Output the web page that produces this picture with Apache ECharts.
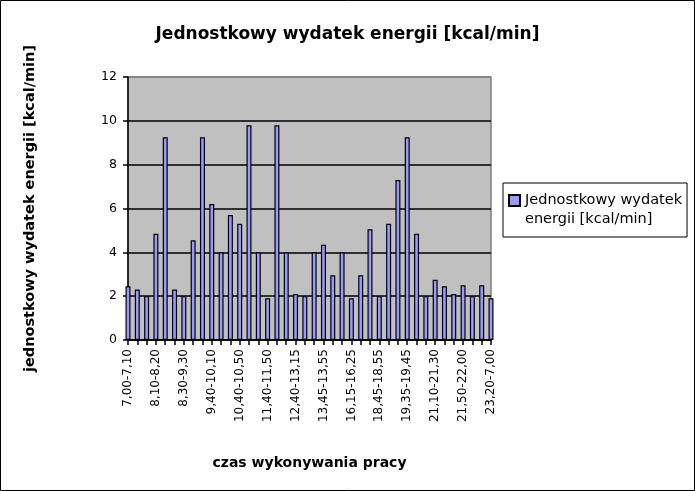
<!DOCTYPE html>
<html>
<head>
<meta charset="utf-8">
<script src="https://cdn.jsdelivr.net/npm/echarts@6/dist/echarts.min.js"></script>
<style>
html,body{margin:0;padding:0;background:#fff;}
#chart{width:695px;height:491px;}
</style>
</head>
<body>
<div id="chart"></div>
<script>
var titleText = 'Jednostkowy wydatek energii [kcal/min]';
var seriesName = 'Jednostkowy wydatek energii [kcal/min]';
var legendLines = ['Jednostkowy wydatek', 'energii [kcal/min]'];
var xAxisName = 'czas wykonywania pracy';
var yAxisName = 'jednostkowy wydatek energii [kcal/min]';

var categories = [
  '7,00-7,10', '7,10-7,40', '7,40-8,10',
  '8,10-8,20', '8,20-8,25', '8,25-8,30',
  '8,30-9,30', '9,30-9,35', '9,35-9,40',
  '9,40-10,10', '10,10-10,20', '10,20-10,40',
  '10,40-10,50', '10,50-11,20', '11,20-11,40',
  '11,40-11,50', '11,50-12,20', '12,20-12,40',
  '12,40-13,15', '13,15-13,35', '13,35-13,45',
  '13,45-13,55', '13,55-14,30', '14,30-15,45',
  '16,15-16,25', '16,25-17,30', '17,30-18,35',
  '18,45-18,55', '18,55-19,05', '19,05-19,35',
  '19,35-19,45', '19,45-20,00', '20,00-21,00',
  '21,10-21,30', '21,30-21,40', '21,40-21,50',
  '21,50-22,00', '22,00-22,30', '22,30-23,20',
  '23,20-7,00'
];

var values = [
  2.45, 2.3, 2.0, 4.85, 9.25, 2.3, 2.0, 4.55, 9.25, 6.2,
  4.0, 5.7, 5.3, 9.8, 4.0, 1.9, 9.8, 4.0, 2.1, 2.0,
  4.0, 4.35, 2.95, 4.0, 1.9, 2.95, 5.05, 2.0, 5.3, 7.3,
  9.25, 4.85, 2.0, 2.75, 2.45, 2.1, 2.5, 2.0, 2.5, 1.9
];

var yMin = 0, yMax = 12, yStep = 2;

var chart = echarts.init(document.getElementById('chart'), null, {renderer: 'canvas'});
chart.setOption({
  animation: false,
  backgroundColor: '#ffffff',
  title: {
    text: titleText,
    left: 'center',
    top: 21,
    textStyle: {fontFamily: 'DejaVu Sans', fontWeight: 'bold', fontSize: 17, color: '#000'}
  },
  legend: {
    left: 503,
    top: 183,
    orient: 'vertical',
    padding: [7, 5, 7, 5],
    borderColor: '#000',
    borderWidth: 1,
    itemWidth: 11,
    itemHeight: 38,
    icon: 'path://M0,4h11v11h-11z M0,0 M11,38',
    formatter: function () { return legendLines.join('\n'); },
    textStyle: {fontFamily: 'DejaVu Sans', fontSize: 14.5, lineHeight: 19, color: '#000'},
    data: [seriesName]
  },
  grid: {
    left: 128, right: 204, top: 77, bottom: 151,
    show: true,
    backgroundColor: '#c0c0c0',
    borderColor: '#808080',
    borderWidth: 1.5,
    outerBoundsMode: 'none'
  },
  xAxis: {
    type: 'category',
    data: categories,
    boundaryGap: false,
    name: xAxisName,
    nameLocation: 'middle',
    nameGap: 116,
    nameTextStyle: {fontFamily: 'DejaVu Sans', fontWeight: 'bold', fontSize: 14, color: '#000'},
    axisLine: {show: true, lineStyle: {color: '#000', width: 1.5}},
    axisTick: {show: true, interval: 0, length: 5, lineStyle: {color: '#000', width: 1.5}},
    axisLabel: {
      interval: 2, rotate: 90, margin: 9,
      fontFamily: 'DejaVu Sans', fontSize: 12, color: '#000'
    },
    splitLine: {show: false}
  },
  yAxis: {
    type: 'value',
    min: yMin, max: yMax, interval: yStep,
    name: yAxisName,
    nameLocation: 'middle',
    nameGap: 90,
    nameTextStyle: {fontFamily: 'DejaVu Sans', fontWeight: 'bold', fontSize: 14.5, color: '#000'},
    axisLine: {show: true, lineStyle: {color: '#000', width: 1.5}},
    axisTick: {show: true, inside: false, length: 5, lineStyle: {color: '#000', width: 1.5}},
    axisLabel: {margin: 11, fontFamily: 'DejaVu Sans', fontSize: 12.5, color: '#000'},
    splitLine: {show: true, lineStyle: {color: ['#000', '#000', '#000', '#000', '#000', '#000', '#808080'], width: 1.5}}
  },
  series: [{
    name: seriesName,
    type: 'bar',
    data: values,
    barWidth: 5,
    clip: true,
    itemStyle: {color: '#9999ff', borderColor: '#000', borderWidth: 1.2}
  }],
  graphic: [{
    type: 'rect',
    shape: {x: 0.5, y: 0.5, width: 694, height: 490},
    style: {fill: 'none', stroke: '#000', lineWidth: 1},
    silent: true,
    z: 100
  }]
});
</script>
</body>
</html>
